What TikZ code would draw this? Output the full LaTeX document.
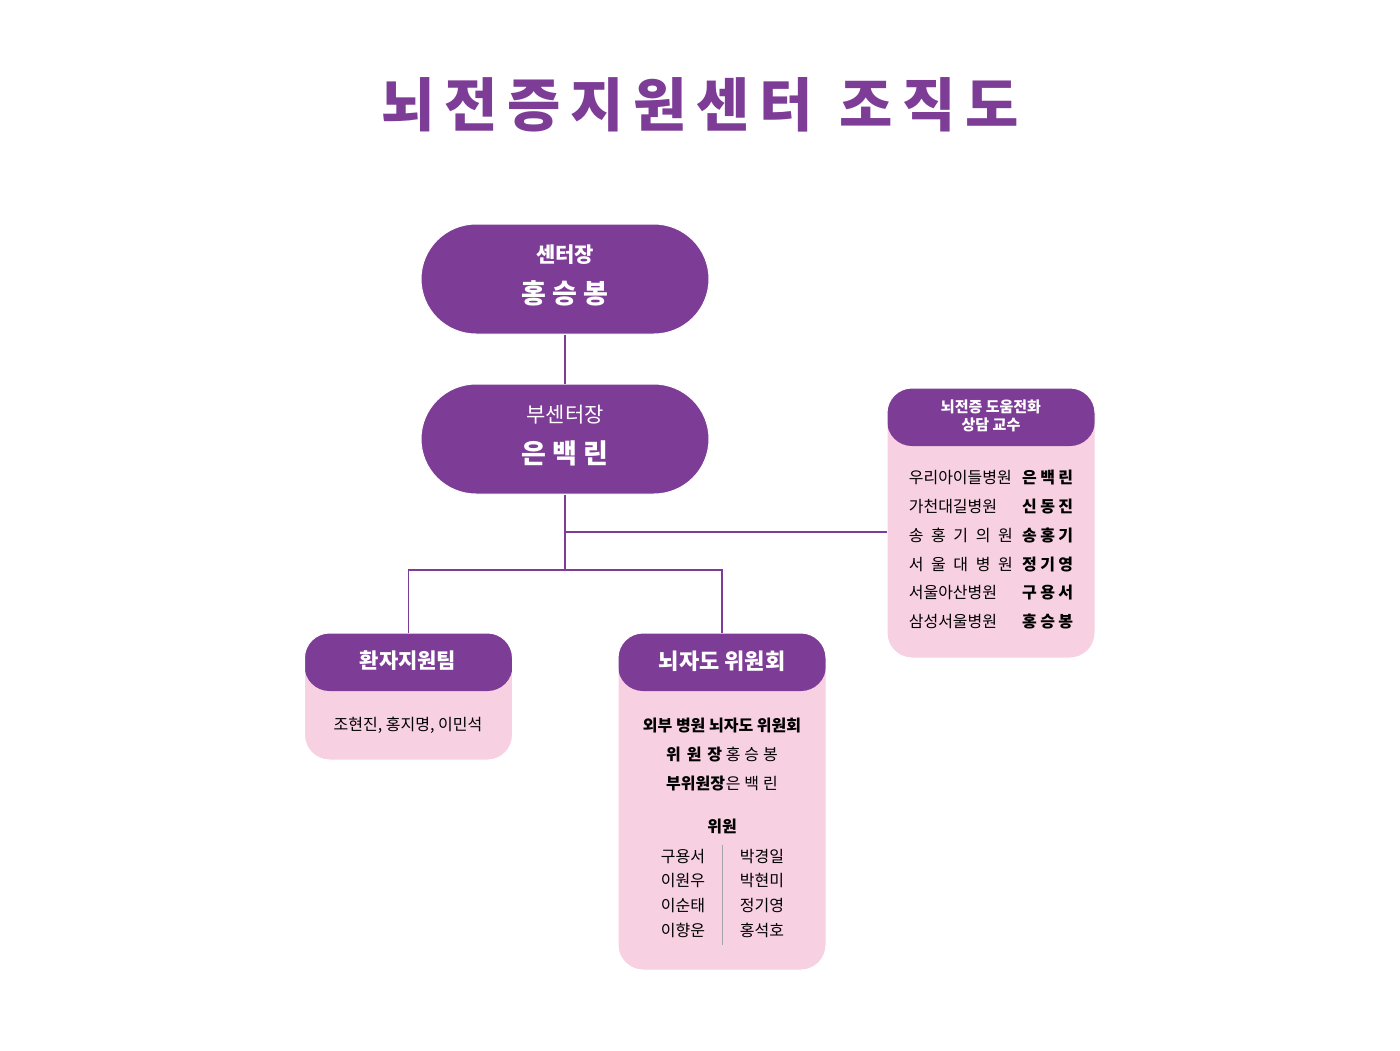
\documentclass[tikz,border=0pt]{standalone}
\usepackage{fontspec}
\setmainfont{Noto Sans CJK KR}
\newfontfamily\krbold{Noto Sans CJK KR}[FakeBold=2]
\definecolor{brainpurple}{HTML}{7D3C96}
\definecolor{brainpink}{HTML}{F7D0E2}
\newcommand{\spreadtext}[2]{\makebox[#1][s]{#2}}
\begin{document}
\begin{tikzpicture}[x=1pt,y=-1pt,
    pill/.style={draw=white,line width=1pt,fill=brainpurple,rounded corners=55pt,minimum width=288pt,minimum height=110pt,inner sep=0pt},
    teambox/.style={draw=white,line width=1pt,fill=brainpink,rounded corners=25pt,minimum width=208pt,inner sep=0pt,
        path picture={\fill[brainpurple] (path picture bounding box.north west) rectangle ([yshift=-#1]path picture bounding box.north east);}},
    link/.style={brainpurple,line width=1.2pt},
    body/.style={font=\fontsize{16}{18}\selectfont,inner sep=0pt}]
    \useasboundingbox (0,0) rectangle (1400,1050);

    \node[text=brainpurple,font=\fontsize{58}{60}\bfseries] (title) at (700,105) {뇌\,전\,증\,지\,원\,센\,터\ \ 조\,직\,도};

    \node[pill] (head) at (565,279) {};
    \node[text=white,font=\fontsize{21}{24}\bfseries] (headrole) at (565,255) {센터장};
    \node[text=white,font=\fontsize{27}{30}\bfseries] (headname) at (565,293) {홍\ 승\ 봉};

    \node[pill] (vice) at (565,439) {};
    \node[text=white,font=\fontsize{21}{24}\selectfont] (vicerole) at (565,415) {부센터장};
    \node[text=white,font=\fontsize{27}{30}\bfseries] (vicename) at (565,453) {은\ 백\ 린};

    \node[teambox=58pt,minimum height=127pt] (patient) at (408.5,696.5) {};
    \node[teambox=58pt,minimum height=337pt] (meg) at (722,801.5) {};
    \node[teambox=58pt,minimum height=270pt] (phone) at (991,523) {};

    \coordinate (split) at (565,570);
    \coordinate (branch) at (565,532);
    \draw[link] (head) -- (vice);
    \draw[link] (vice) -- (split);
    \draw[link] (branch) -- (phone.west |- branch);
    \draw[link] (split) -| (patient.north);
    \draw[link] (split) -| (meg.north);

    % patient team
    \node[text=white,font=\fontsize{21}{24}\bfseries] (patienthead) at (408,661) {환자지원팀};
    \node[body] (patientlist) at (408,725) {조현진, 홍지명, 이민석};

    % MEG committee
    \node[text=white,font=\fontsize{22}{24}\bfseries] (meghead) at (722,661) {뇌자도 위원회};
    \node[body,font=\fontsize{16}{18}\bfseries] (megtitle) at (722,726) {외부 병원 뇌자도 위원회};
    \node[body] (megchair) at (722,755) {{\bfseries\spreadtext{56pt}{위\hfil 원\hfil 장}} \spreadtext{52pt}{홍\hfil 승\hfil 봉}};
    \node[body] (megvice) at (722,784) {{\bfseries\spreadtext{56pt}{부위원장}} \spreadtext{52pt}{은\hfil 백\hfil 린}};
    \node[body,font=\fontsize{16}{18}\bfseries] (megmembers) at (722,826) {위원};
    \foreach \left/\right [count=\i] in {구용서/박경일,이원우/박현미,이순태/정기영,이향운/홍석호}{
        \node[body] (mem\i a) at (683,832+24.5*\i) {\left};
        \node[body] (mem\i b) at (762,832+24.5*\i) {\right};
    }
    \draw[gray!70,line width=0.8pt] (722,845) -- (722,945);

    % phone counselling
    \node[text=white,align=center,font=\fontsize{15}{18}\bfseries] (phonehead) at (991,416) {뇌전증 도움전화\\상담 교수};
    \foreach \hosp/\prof [count=\i] in {우리아이들병원/은\hfil 백\hfil 린,가천대길병원/신\hfil 동\hfil 진,송\hfil 홍\hfil 기\hfil 의\hfil 원/송\hfil 홍\hfil 기,서\hfil 울\hfil 대\hfil 병\hfil 원/정\hfil 기\hfil 영,서울아산병원/구\hfil 용\hfil 서,삼성서울병원/홍\hfil 승\hfil 봉}{
        \node[body,anchor=east] (hosp\i) at (1013,449+28.8*\i) {\spreadtext{104pt}{\hosp}};
        \node[body,anchor=west,font=\fontsize{16}{18}\bfseries] (prof\i) at (1022,449+28.8*\i) {\spreadtext{51pt}{\prof}};
    }
\end{tikzpicture}
\end{document}
